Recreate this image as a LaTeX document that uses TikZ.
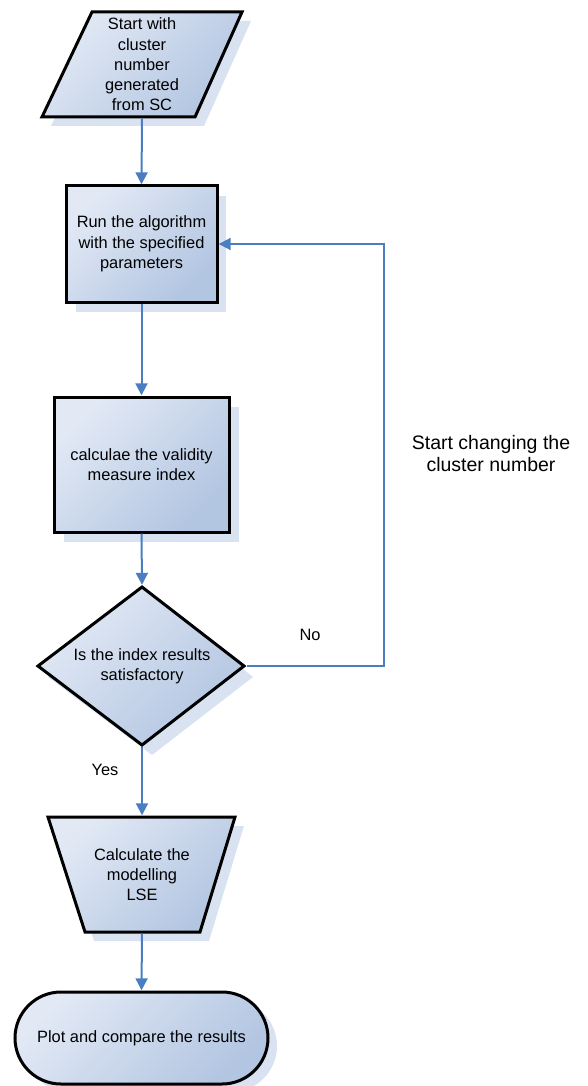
\documentclass[tikz,border=0pt]{standalone}
\usepackage{fontspec}
\setmainfont{Liberation Sans}
\usetikzlibrary{arrows.meta}
\definecolor{shapelight}{HTML}{E2E9F5}
\definecolor{shapedark}{HTML}{B2C5E1}
\definecolor{shadowc}{HTML}{D8E2F1}
\definecolor{linkc}{HTML}{4A7EC1}
\begin{document}
\begin{tikzpicture}[x=1pt,y=-1pt,
  shapebox/.style={draw=black, line width=3pt, line join=miter, top color=shapelight, bottom color=shapedark, shading angle=45},
  shadowbox/.style={fill=shadowc, draw=none},
  txt/.style={inner sep=0pt, align=center, font=\fontsize{16.4}{20.3}\selectfont},
  lbl/.style={inner sep=0pt, align=center, font=\fontsize{16.4}{20.3}\selectfont},
  biglbl/.style={inner sep=0pt, align=center, font=\fontsize{19.5}{22}\selectfont},
  link/.style={draw=linkc, line width=2pt, -{Triangle[length=12pt,width=12pt]}}]
\useasboundingbox (0,0) rectangle (587,1086);
% shadows
\path[shadowbox] (101,21) -- (251,21) -- (204,126) -- (51,126) -- cycle;
\path[shadowbox] (76,196) rectangle (226,312);
\path[shadowbox] (64,407) rectangle (239,542);
\path[shadowbox] (48,677) -- (152,597) -- (253,677) -- (152,755) -- cycle;
\path[shadowbox] (57,826) -- (244,826) -- (209,941) -- (94,941) -- cycle;
\path[shadowbox, rounded corners=46pt] (24,1000) rectangle (277,1092);
% shapes
\path[shapebox] (92,12) -- (242,12) -- (195,117) -- (42,117) -- cycle;
\path[shapebox] (66,186) rectangle (217,302);
\path[shapebox] (54,397) rectangle (229,532);
\path[shapebox] (38,666) -- (142,587) -- (244,666) -- (142,745) -- cycle;
\path[shapebox] (48,817) -- (235,817) -- (200,932) -- (85,932) -- cycle;
\path[shapebox, rounded corners=46pt] (15,992) rectangle (268,1084);
% text nodes
\node[txt, minimum width=150pt, minimum height=108pt] (p1) at (142,64.5) {Start with\\cluster\\number\\generated\\from SC};
\node[txt, minimum width=154pt, minimum height=119pt] (b2) at (141.5,244) {Run the algorithm\\with the specified\\parameters};
\node[txt, minimum width=178pt, minimum height=138pt] (b3) at (141.5,464.5) {calculae the validity\\measure index};
\node[txt, minimum width=210pt, minimum height=162pt] (d) at (142,666) {Is the index results\\satisfactory};
\node[txt, minimum width=190pt, minimum height=118pt] (t) at (142,874.5) {Calculate the\\modelling\\LSE};
\node[txt, minimum width=256pt, minimum height=95pt] (e) at (141.5,1038) {Plot and compare the results};
% labels
\node[lbl] (no) at (310,635) {No};
\node[lbl] (yes) at (105,770) {Yes};
\node[biglbl] (chg) at (491,454) {Start changing the\\cluster number};
% connectors
\coordinate (loopc) at (384,666);
\draw[link] (p1.south) -- (b2.north);
\draw[link] (b2.south) -- (b3.north);
\draw[link] (b3.south) -- (d.north);
\draw[link] (d.south) -- (t.north);
\draw[link] (t.south) -- (e.north);
\draw[link] (d.east) -- (loopc) |- (b2.east);
\end{tikzpicture}
\end{document}
